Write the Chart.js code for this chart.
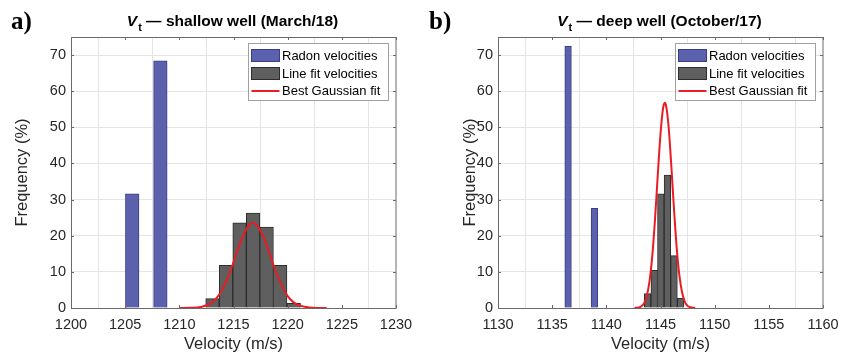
<!DOCTYPE html>
<html>
<head>
<meta charset="utf-8">
<script src="https://cdn.jsdelivr.net/npm/chart.js@4.4.1/dist/chart.umd.min.js"></script>
<style>
  body { margin: 0; background: #fff; }
  .panel { position: absolute; top: 0; height: 354px; }
  #wrapA { left: 0; width: 425px; }
  #wrapB { left: 425px; width: 430px; }
</style>
</head>
<body>
<div class="panel" id="wrapA"><canvas id="chartA" width="425" height="354"></canvas></div>
<div class="panel" id="wrapB"><canvas id="chartB" width="430" height="354"></canvas></div>
<script>
// a) shallow well (March/18)
const shallowRadonVel = [1205.65, 1208.25];
const shallowRadonFreq = [31.6, 68.4];
const shallowFitVel = [1213.06, 1214.31, 1215.56, 1216.81, 1218.06, 1219.31, 1220.56];
const shallowFitFreq = [2.6, 11.8, 23.6, 26.3, 22.4, 11.8, 1.3];
const shallowGaussVel = [1210, 1211, 1212, 1213, 1213.5, 1214, 1214.5, 1215, 1215.5, 1216, 1216.5, 1216.8,
  1217, 1217.5, 1218, 1218.5, 1219, 1219.5, 1220, 1220.5, 1221, 1222, 1223, 1223.6];
const shallowGaussFreq = [0, 0.04, 0.3, 1.5, 3.0, 5.3, 8.6, 12.7, 17.0, 20.8, 23.1, 23.5,
  23.3, 21.4, 17.9, 13.5, 9.4, 5.9, 3.3, 1.7, 0.8, 0.14, 0.02, 0];
const shallowTicks = [1200, 1230];

// b) deep well (October/17)
const deepRadonVel = [1136.47, 1138.9];
const deepRadonFreq = [72.4, 27.6];
const deepFitVel = [1143.81, 1144.42, 1145.03, 1145.64, 1146.25, 1146.86];
const deepFitFreq = [4.0, 10.4, 31.6, 36.8, 14.5, 2.7];
const deepGaussVel = [1142.6, 1143, 1143.25, 1143.5, 1143.75, 1144, 1144.25, 1144.5, 1144.75, 1145, 1145.25, 1145.4,
  1145.5, 1145.75, 1146, 1146.25, 1146.5, 1146.75, 1147, 1147.25, 1147.5, 1147.75, 1148.2];
const deepGaussFreq = [0, 0.16, 0.5, 1.4, 3.5, 7.7, 14.7, 24.8, 36.9, 48.2, 55.5, 56.8,
  56.2, 50.1, 39.3, 27.2, 16.5, 8.8, 4.2, 1.7, 0.6, 0.2, 0];
const deepTicks = [1130, 1160];

const legendLabels = ['Radon velocities', 'Line fit velocities', 'Best Gaussian fit'];
const freqMax = 75;

const SANS = '"Liberation Sans", Arial, Helvetica, sans-serif';
const blue = '#5b61ad', blueEdge = '#3a3e86';
const grey = '#5f5f5f', greyEdge = '#2c2c2c';
const red = '#ea1c24';

function pts(xs, ys) {
  return xs.map((x, i) => ({x: x, y: ys[i]}));
}

// box, inward ticks, legend, title and panel letter (matlab look)
const matlabPlugin = {
  id: 'matlab',
  afterDatasetsDraw(chart, args, opts) {
    const {ctx, chartArea: a, scales} = chart;
    ctx.save();
    ctx.strokeStyle = '#6a6a6a';
    ctx.lineWidth = 1;
    ctx.strokeRect(a.left + 0.5, a.top + 0.5, a.width - 0.5, a.height);
    ctx.beginPath();
    scales.x.ticks.forEach(t => {
      const px = Math.round(scales.x.getPixelForValue(t.value)) + 0.5;
      ctx.moveTo(px, a.bottom); ctx.lineTo(px, a.bottom - 3);
      ctx.moveTo(px, a.top); ctx.lineTo(px, a.top + 3);
    });
    scales.y.ticks.forEach(t => {
      const py = Math.round(scales.y.getPixelForValue(t.value)) + 0.5;
      ctx.moveTo(a.left, py); ctx.lineTo(a.left + 3, py);
      ctx.moveTo(a.right, py); ctx.lineTo(a.right - 3, py);
    });
    ctx.stroke();

    // legend
    const bw = 140, bh = 57;
    const bx = Math.round(a.right - 8 - bw) + 0.5, by = Math.round(a.top + 6) + 0.5;
    ctx.fillStyle = '#fff';
    ctx.fillRect(bx, by, bw, bh);
    ctx.strokeStyle = '#a0a0a0';
    ctx.strokeRect(bx, by, bw, bh);
    const rows = [12, 30, 47.5];
    const ds = chart.data.datasets;
    ctx.font = '13px ' + SANS;
    ctx.textBaseline = 'middle';
    ctx.textAlign = 'left';
    legendLabels.forEach((lab, i) => {
      const d = ds.find(s => s.label === lab);
      const ry = by + rows[i];
      if (d.type === 'line') {
        ctx.strokeStyle = d.borderColor; ctx.lineWidth = 2;
        ctx.beginPath(); ctx.moveTo(bx + 3, ry); ctx.lineTo(bx + 31, ry); ctx.stroke();
      } else {
        ctx.fillStyle = d.backgroundColor;
        ctx.fillRect(bx + 3, ry - 6, 28, 12);
        ctx.strokeStyle = d.borderColor; ctx.lineWidth = 1;
        ctx.strokeRect(bx + 3, ry - 6, 28, 12);
      }
      ctx.fillStyle = '#000';
      ctx.fillText(lab, bx + 33.5, ry + 0.5);
    });

    // title with italic V and subscript t
    const cx = (a.left + a.right) / 2 - 1;
    const ty = 26;
    ctx.fillStyle = '#000';
    ctx.textBaseline = 'alphabetic';
    ctx.font = 'italic bold 15.5px ' + SANS; const wV = ctx.measureText('V').width;
    ctx.font = 'bold 11px ' + SANS; const wT = ctx.measureText('t').width;
    ctx.font = 'bold 15.5px ' + SANS; const wR = ctx.measureText(opts.title).width;
    let x = cx - (wV + 1 + wT + wR) / 2;
    ctx.font = 'italic bold 15.5px ' + SANS; ctx.fillText('V', x, ty); x += wV + 1;
    ctx.font = 'bold 11px ' + SANS; ctx.fillText('t', x, ty + 4.5); x += wT;
    ctx.font = 'bold 15.5px ' + SANS; ctx.fillText(opts.title, x, ty);

    // panel letter
    ctx.font = 'bold 25px "Liberation Serif", "Times New Roman", serif';
    ctx.fillText(opts.letter, opts.letterX, 29);
    ctx.restore();
  }
};

function makeChart(id, cfg) {
  return new Chart(document.getElementById(id), {
    type: 'bar',
    data: {
      datasets: [
        {
          type: 'line', label: legendLabels[2], data: pts(cfg.gaussX, cfg.gaussY),
          borderColor: red, borderWidth: 2, pointRadius: 0, fill: false,
          cubicInterpolationMode: 'monotone', order: 0
        },
        {
          label: legendLabels[0], data: pts(cfg.radonX, cfg.radonY),
          backgroundColor: blue, borderColor: blueEdge, borderWidth: 1,
          grouped: false, barPercentage: 1, categoryPercentage: 1, order: 1
        },
        {
          label: legendLabels[1], data: pts(cfg.fitX, cfg.fitY),
          backgroundColor: grey, borderColor: greyEdge, borderWidth: 1,
          grouped: false, barPercentage: 1, categoryPercentage: 1, order: 2
        }
      ]
    },
    options: {
      responsive: false,
      animation: false,
      layout: {padding: {left: 0, right: cfg.padRight, top: 37, bottom: 0}},
      plugins: {
        legend: {display: false},
        tooltip: {enabled: false},
        matlab: {title: cfg.title, letter: cfg.letter, letterX: cfg.letterX}
      },
      scales: {
        x: {
          type: 'linear', offset: false,
          min: cfg.ticks[0], max: cfg.ticks[1],
          afterFit: s => { s.height = 46; },
          grid: {color: '#e4e4e4', drawTicks: false},
          border: {display: false},
          ticks: {stepSize: 5, padding: 8, maxRotation: 0, color: '#262626',
                  callback: v => String(v),
                  font: {family: SANS, size: 14.5}},
          title: {display: true, text: 'Velocity (m/s)', color: '#262626',
                  font: {family: SANS, size: 16.5, lineHeight: 1}, padding: {top: 0, bottom: 1}}
        },
        y: {
          min: 0, max: freqMax,
          afterFit: s => { s.width = cfg.yWidth; },
          grid: {color: '#e4e4e4', drawTicks: false},
          border: {display: false},
          ticks: {stepSize: 10, includeBounds: false, padding: 5, color: '#262626',
                  callback: v => String(v),
                  font: {family: SANS, size: 14.5}},
          title: {display: true, text: 'Frequency (%)', color: '#262626',
                  font: {family: SANS, size: 16.5, lineHeight: 1.2}, padding: {top: cfg.yTitlePad, bottom: 0}}
        }
      }
    },
    plugins: [matlabPlugin]
  });
}

makeChart('chartA', {
  radonX: shallowRadonVel, radonY: shallowRadonFreq,
  fitX: shallowFitVel, fitY: shallowFitFreq,
  gaussX: shallowGaussVel, gaussY: shallowGaussFreq,
  ticks: shallowTicks, title: ' \u2014 shallow well (March/18)',
  letter: 'a)', letterX: 11, padRight: 29, yWidth: 71, yTitlePad: 13
});

makeChart('chartB', {
  radonX: deepRadonVel, radonY: deepRadonFreq,
  fitX: deepFitVel, fitY: deepFitFreq,
  gaussX: deepGaussVel, gaussY: deepGaussFreq,
  ticks: deepTicks, title: ' \u2014 deep well (October/17)',
  letter: 'b)', letterX: 4, padRight: 32, yWidth: 73, yTitlePad: 36
});
</script>
</body>
</html>
